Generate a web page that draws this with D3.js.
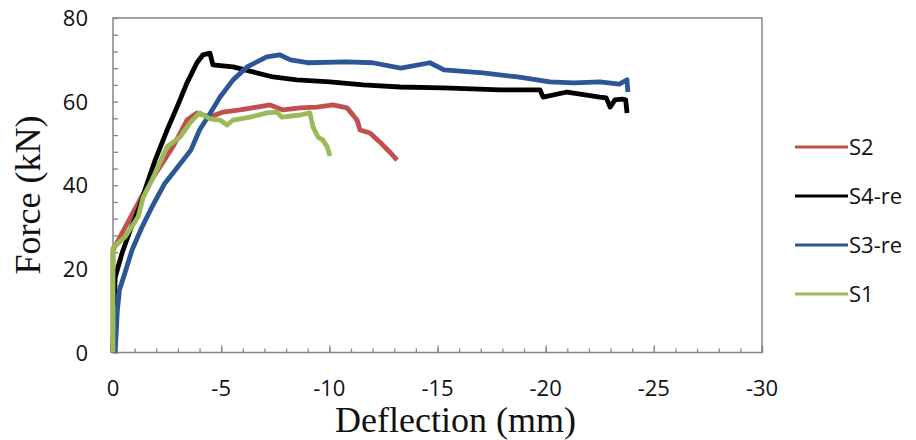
<!DOCTYPE html>
<html>
<head>
<meta charset="utf-8">
<script src="https://cdn.jsdelivr.net/npm/d3@7"></script>
<style>
  body { margin: 0; background: #fff; }
  svg { display: block; }
</style>
</head>
<body>
<script>
// series: [deflection (mm), force (kN)]
var s2 = [[0,0],[0,24.5],[-0.32,27.6],[-0.92,33.4],[-1.57,39.6],[-2.17,44.4],[-2.77,49.2],
  [-3.42,55.6],[-3.88,57.3],[-4.48,56.3],[-5.08,57.5],[-5.87,58],[-6.66,58.7],[-7.26,59.2],
  [-7.86,58],[-8.65,58.5],[-9.43,58.7],[-10.17,59.2],[-10.82,58.5],[-11.28,55.6],[-11.42,53.2],
  [-11.88,52.5],[-12.34,50.3],[-12.8,47.9],[-13.13,46]];
var s4re = [[0,0],[-0.05,12],[-0.1,18],[-0.42,23.8],[-0.8,29.3],[-1.2,34.5],[-1.6,40.8],
  [-1.95,46],[-2.5,53.2],[-2.96,58.7],[-3.42,64.5],[-3.88,69.3],[-4.16,71.2],[-4.48,71.6],
  [-4.62,68.8],[-5.55,68.3],[-6.47,67.1],[-7.4,65.9],[-8.5,65.2],[-10.03,64.7],[-11.56,64],
  [-13.27,63.5],[-15.26,63.3],[-17.9,62.8],[-19.74,62.8],[-19.88,61.1],[-20.99,62.3],
  [-22.5,61.1],[-22.8,60.9],[-22.98,58.7],[-23.2,60.4],[-23.53,60.6],[-23.7,60.4],[-23.76,57.3]];
var s3re = [[-0.1,0],[-0.2,10],[-0.3,15],[-0.55,19],[-0.88,24.5],[-1.34,30],[-1.8,34.8],
  [-2.4,40.5],[-3.0,44.4],[-3.6,48.4],[-4.0,53.2],[-4.5,57.3],[-4.95,61.1],[-5.55,65.2],
  [-6.2,68.3],[-7.1,70.7],[-7.7,71.2],[-8.2,70],[-9.0,69.3],[-10.8,69.5],[-12.0,69.3],
  [-13.3,68],[-14.65,69.3],[-15.3,67.6],[-17.1,66.9],[-18.7,65.9],[-20.2,64.7],[-21.3,64.5],
  [-22.5,64.7],[-23.4,64.2],[-23.76,65.2],[-23.8,62.3]];
var s1 = [[0,0],[0,25],[-0.55,27.6],[-1.16,32.4],[-1.4,37.2],[-1.8,41.2],[-2.5,49.2],
  [-3.1,51.5],[-3.56,54.9],[-4.0,57.3],[-4.48,55.9],[-4.95,55.6],[-5.27,54.4],[-5.55,55.6],
  [-6.33,56.3],[-7.12,57.3],[-7.58,57.5],[-7.8,56.3],[-8.65,56.8],[-9.1,57.3],[-9.25,53.9],
  [-9.48,51.5],[-9.7,50.8],[-9.9,49.2],[-10.03,47]];

var names = ["S2", "S4-re", "S3-re", "S1"];
var colors = ["#c0504d", "#000000", "#2b5797", "#9bbb59"];
var seriesData = [s2, s4re, s3re, s1];

var xTicks = [0, -5, -10, -15, -20, -25, -30];
var yTicks = [0, 20, 40, 60, 80];

function draw() {
  var W = 916, H = 440;
  var mLeft = 113, mRight = 762, mTop = 18, mBottom = 352.5;

  var svg = d3.select("body").append("svg")
      .attr("width", W)
      .attr("height", H);

  var x = d3.scaleLinear().domain([0, -30]).range([mLeft, mRight]);
  var y = d3.scaleLinear().domain([0, 80]).range([mBottom, mTop]);

  /* frame */
  svg.append("rect")
      .attr("x", mLeft).attr("y", mTop)
      .attr("width", mRight - mLeft).attr("height", mBottom - mTop)
      .attr("fill", "none")
      .attr("stroke", "#858585")
      .attr("stroke-width", 1.5);

  /* minor + major ticks drawn with the axis generators */
  var axisStyle = function(g) {
    g.select(".domain").remove();
    g.selectAll(".tick line").attr("stroke", "#858585").attr("stroke-width", 1.3);
    g.selectAll("text").remove();
  };

  svg.append("g")
      .attr("transform", "translate(0," + mBottom + ")")
      .call(d3.axisTop(x).tickValues(d3.range(0, -31, -1)).tickSize(4))
      .call(axisStyle);
  svg.append("g")
      .attr("transform", "translate(0," + mBottom + ")")
      .call(d3.axisTop(x).tickValues(xTicks).tickSize(7))
      .call(axisStyle);
  svg.append("g")
      .attr("transform", "translate(" + mLeft + ",0)")
      .call(d3.axisRight(y).tickValues(d3.range(0, 81, 4)).tickSize(5))
      .call(axisStyle);

  /* tick labels */
  svg.append("g").selectAll("text")
      .data(xTicks).enter().append("text")
      .attr("x", function(d) { return x(d); })
      .attr("y", 396)
      .attr("text-anchor", "middle")
      .style("font-family", "'Open Sans', sans-serif")
      .style("font-size", "22px")
      .style("fill", "#111")
      .text(function(d) { return d; });

  svg.append("g").selectAll("text")
      .data(yTicks).enter().append("text")
      .attr("x", 88)
      .attr("y", function(d) { return y(d) + 8; })
      .attr("text-anchor", "end")
      .style("font-family", "'Open Sans', sans-serif")
      .style("font-size", "22px")
      .style("fill", "#111")
      .text(function(d) { return d; });

  /* axis titles */
  svg.append("text")
      .attr("x", 335)
      .attr("y", 432)
      .style("font-family", "'Liberation Serif', 'Times New Roman', serif")
      .style("font-size", "36px")
      .style("fill", "#111")
      .text("Deflection (mm)");

  svg.append("text")
      .attr("transform", "translate(40,195) rotate(-90)")
      .attr("text-anchor", "middle")
      .style("font-family", "'Liberation Serif', 'Times New Roman', serif")
      .style("font-size", "36px")
      .style("fill", "#111")
      .text("Force (kN)");

  /* curves */
  var line = d3.line()
      .x(function(d) { return x(d[0]); })
      .y(function(d) { return y(d[1]); });

  svg.append("g").selectAll("path")
      .data(seriesData).enter().append("path")
      .attr("d", line)
      .attr("fill", "none")
      .attr("stroke", function(d, i) { return colors[i]; })
      .attr("stroke-width", 4.8)
      .attr("stroke-linejoin", "round");

  /* legend */
  var legend = svg.append("g").selectAll("g")
      .data(names).enter().append("g")
      .attr("transform", function(d, i) { return "translate(795," + (147 + i * 49) + ")"; });

  legend.append("line")
      .attr("x1", 0).attr("x2", 53)
      .attr("stroke", function(d, i) { return colors[i]; })
      .attr("stroke-width", 3);

  legend.append("text")
      .attr("x", 54)
      .attr("y", 8)
      .style("font-family", "'Open Sans', sans-serif")
      .style("font-size", "22px")
      .style("fill", "#111")
      .text(function(d) { return d; });
}

draw();
</script>
</body>
</html>
